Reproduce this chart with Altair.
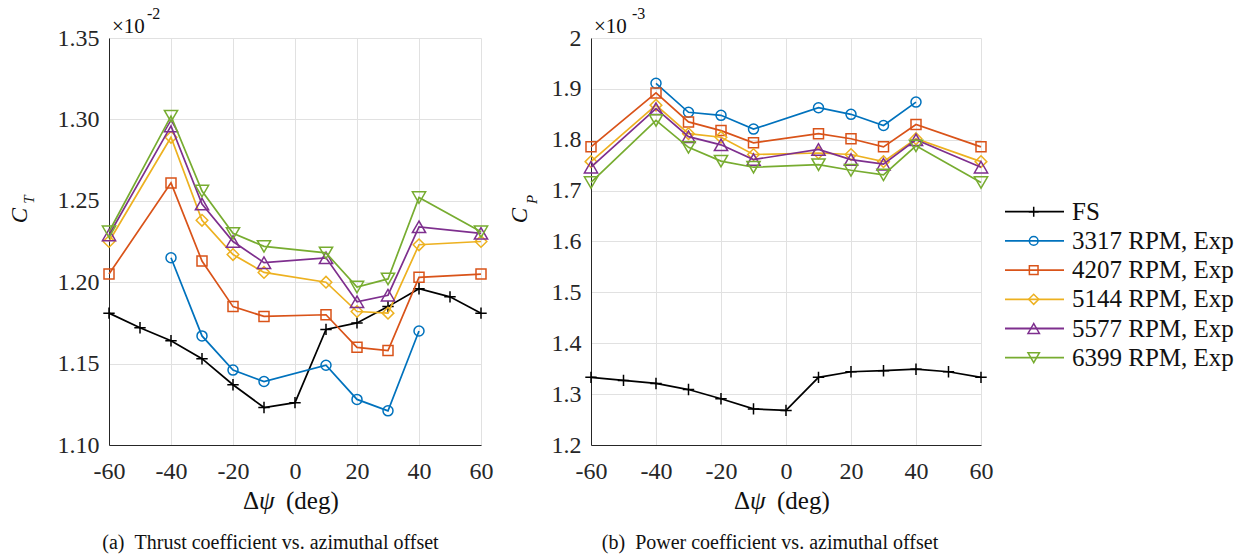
import altair as alt
import pandas as pd

FONT = "Liberation Serif"

# ---------------- data ----------------
psi_fs = [-60, -50, -40, -30, -20, -10, 0, 10, 20, 30, 40, 50, 60]
psi_3317 = [-40, -30, -20, -10, 10, 20, 30, 40]
psi_exp = [-60, -40, -30, -20, -10, 10, 20, 30, 40, 60]

labels = ["FS", "3317 RPM, Exp", "4207 RPM, Exp", "5144 RPM, Exp",
          "5577 RPM, Exp", "6399 RPM, Exp"]

# thrust coefficient, units of 1e-2
ct_fs = [1.181, 1.172, 1.164, 1.153, 1.137, 1.123, 1.126, 1.171, 1.175, 1.185, 1.196, 1.191, 1.181]
ct_3317 = [1.215, 1.167, 1.146, 1.139, 1.149, 1.128, 1.121, 1.170]
ct_4207 = [1.205, 1.261, 1.213, 1.185, 1.179, 1.180, 1.160, 1.158, 1.203, 1.205]
ct_5144 = [1.225, 1.289, 1.238, 1.217, 1.206, 1.200, 1.182, 1.181, 1.223, 1.225]
ct_5577 = [1.229, 1.296, 1.248, 1.225, 1.212, 1.215, 1.188, 1.192, 1.234, 1.230]
ct_6399 = [1.231, 1.302, 1.256, 1.230, 1.222, 1.218, 1.197, 1.202, 1.252, 1.231]

# power coefficient, units of 1e-3
cp_fs = [1.333, 1.327, 1.321, 1.309, 1.291, 1.271, 1.268, 1.333, 1.344, 1.346, 1.349, 1.344, 1.333]
cp_3317 = [1.911, 1.854, 1.848, 1.821, 1.863, 1.850, 1.828, 1.874]
cp_4207 = [1.786, 1.892, 1.835, 1.818, 1.794, 1.812, 1.802, 1.786, 1.830, 1.786]
cp_5144 = [1.757, 1.868, 1.812, 1.805, 1.771, 1.774, 1.771, 1.757, 1.802, 1.757]
cp_5577 = [1.746, 1.861, 1.806, 1.790, 1.761, 1.781, 1.761, 1.752, 1.800, 1.746]
cp_6399 = [1.716, 1.838, 1.785, 1.758, 1.746, 1.751, 1.740, 1.731, 1.788, 1.716]

x_ticks = [-60, -40, -20, 0, 20, 40, 60]
ct_ticks = [1.10, 1.15, 1.20, 1.25, 1.30, 1.35]
cp_ticks = [1.2, 1.3, 1.4, 1.5, 1.6, 1.7, 1.8, 1.9, 2.0]

# ---------------- styles ----------------
PLUS = "M-1,0L1,0M0,-1L0,1"
styles = {
    "FS": dict(color="#000000", shape=PLUS, size=130),
    "3317 RPM, Exp": dict(color="#0072BD", shape="circle", size=100),
    "4207 RPM, Exp": dict(color="#D95319", shape="square", size=100),
    "5144 RPM, Exp": dict(color="#EDB120", shape="diamond", size=135),
    "5577 RPM, Exp": dict(color="#7E2F8E", shape="triangle-up", size=175),
    "6399 RPM, Exp": dict(color="#77AC30", shape="triangle-down", size=175),
}
AX = "#262626"
GRID = "#e1e1e1"
H = 407


def txt(s, x, y, size, **kw):
    return alt.Chart(pd.DataFrame({"t": [s]})).mark_text(
        font=FONT, fontSize=size, color="#111111", **kw
    ).encode(x=alt.value(x), y=alt.value(y), text="t:N")


def panel(width, xs_list, ys_list, y_domain, y_ticks, y_fmt, exp, sub,
          ylab_x, sub_x, caption, cap_x):
    X = alt.X("psi:Q", scale=alt.Scale(domain=[-60, 60], nice=False),
              axis=alt.Axis(values=x_ticks, labelExpr="'' + datum.value",
                            title=None, labelPadding=33, labelFlush=False,
                            labelBaseline="alphabetic"))
    Y = alt.Y("v:Q", scale=alt.Scale(domain=y_domain, nice=False, zero=False),
              axis=alt.Axis(values=y_ticks, format=y_fmt, title=None,
                            labelPadding=10, labelFlush=False))
    layers = []
    for lab, xs, ys in zip(labels, xs_list, ys_list):
        st = styles[lab]
        base = alt.Chart(pd.DataFrame({"psi": xs, "v": ys}))
        layers.append(base.mark_line(color=st["color"], strokeWidth=1.7).encode(x=X, y=Y))
        layers.append(base.mark_point(shape=st["shape"], size=st["size"], filled=False,
                                      color=st["color"], strokeWidth=1.5,
                                      opacity=1).encode(x=X, y=Y))
    c = width / 2
    layers += [
        # y label  C_T / C_P
        txt("C", ylab_x, H / 2 - 26, 23, angle=270, fontStyle="italic",
            align="center", baseline="alphabetic"),
        txt(sub, sub_x, H / 2 - 42, 15, angle=270, fontStyle="italic",
            align="center", baseline="alphabetic"),
        # exponent
        txt("\u00d710", 3, -5, 21, align="left", baseline="alphabetic"),
        txt(exp, 38 if sub == "T" else 41, -19, 16, align="left", baseline="alphabetic"),
        # x title
        txt("\u0394", c - 36, 471, 25, align="right", baseline="alphabetic"),
        txt("\u03c8", c - 36, 471, 25, align="left", baseline="alphabetic",
            fontStyle="italic"),
        txt("(deg)", c - 9, 471, 25, align="left", baseline="alphabetic"),
        # caption
        txt(caption, cap_x, 511, 20, align="center", baseline="alphabetic"),
    ]
    return alt.layer(*layers).properties(width=width, height=H)


left = panel(372,
             [psi_fs, psi_3317, psi_exp, psi_exp, psi_exp, psi_exp],
             [ct_fs, ct_3317, ct_4207, ct_5144, ct_5577, ct_6399],
             [1.10, 1.35], ct_ticks, ".2f", "-2", "T", -82, -75,
             "(a)\u2002Thrust coefficient vs. azimuthal offset", 161.5)

right = panel(390,
              [psi_fs, psi_3317, psi_exp, psi_exp, psi_exp, psi_exp],
              [cp_fs, cp_3317, cp_4207, cp_5144, cp_5577, cp_6399],
              [1.2, 2.0], cp_ticks, ".1~f", "-3", "P", -64, -54,
              "(b)\u2002Power coefficient vs. azimuthal offset", 179)

# ---------------- legend panel ----------------
LY = alt.Y("label:N", scale=alt.Scale(type="point", domain=labels,
                                      range=[173.7, 319.7], padding=0), axis=None)
leg_layers = []
for lab in labels:
    st = styles[lab]
    base = alt.Chart(pd.DataFrame({"label": [lab]}))
    leg_layers.append(base.mark_rule(color=st["color"], strokeWidth=1.8).encode(
        x=alt.value(-86), x2=alt.value(-27), y=LY))
    leg_layers.append(base.mark_point(shape=st["shape"], size=st["size"] * 0.75,
                                      filled=False, color=st["color"],
                                      strokeWidth=1.5, opacity=1).encode(
        x=alt.value(-57.3), y=LY))
    leg_layers.append(base.mark_text(font=FONT, fontSize=25, align="left",
                                     baseline="middle", color="#111111").encode(
        x=alt.value(-19), y=LY, text="label:N"))
legend = alt.layer(*leg_layers).properties(width=150, height=H)

chart = alt.hconcat(left, right, legend, spacing=110, bounds="flush").properties(
    padding={"left": 8, "top": 5, "right": 0, "bottom": 0}
).configure_view(stroke="transparent").configure_axis(
    labelFont=FONT, labelFontSize=24, labelColor=AX,
    domainColor=AX, domainWidth=1, grid=True, gridColor=GRID, gridWidth=1,
    ticks=False, tickSize=0
).configure_axisX(domain=True).configure_axisY(domain=True)

chart.save("out.html", embed_options={"renderer": "svg", "actions": False})
